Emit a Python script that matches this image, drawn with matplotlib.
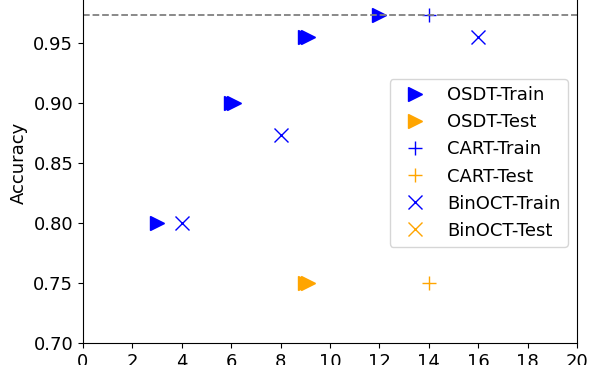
import matplotlib
matplotlib.use('Agg')
import matplotlib.pyplot as plt

# leaves vs accuracy
osdt_train_x = [3, 6, 6.1, 9, 9.1, 12]
osdt_train_y = [0.80, 0.90, 0.90, 0.955, 0.955, 0.973]
osdt_test_x = [9, 9.1]
osdt_test_y = [0.75, 0.75]
cart_train_x = [14]
cart_train_y = [0.973]
cart_test_x = [14]
cart_test_y = [0.75]
binoct_train_x = [4, 8, 16]
binoct_train_y = [0.80, 0.873, 0.955]
binoct_test_x = []
binoct_test_y = []
best_acc = 0.9733

fig = plt.figure(figsize=(5.98, 3.65), dpi=100)
# axes top goes past the figure edge, like the cropped reference
ax = fig.add_axes([83/598, 22/365, 494/598, 360/365])

ms = 10
ax.plot(osdt_train_x, osdt_train_y, '>', color='b', ms=ms, mew=1, label='OSDT-Train')
ax.plot(osdt_test_x, osdt_test_y, '>', color='orange', ms=ms, mew=1, label='OSDT-Test')
ax.plot(cart_train_x, cart_train_y, '+', color='b', ms=ms, mew=1, label='CART-Train')
ax.plot(cart_test_x, cart_test_y, '+', color='orange', ms=ms, mew=1, label='CART-Test')
ax.plot(binoct_train_x, binoct_train_y, 'x', color='b', ms=ms, mew=1, label='BinOCT-Train')
ax.plot(binoct_test_x, binoct_test_y, 'x', color='orange', ms=ms, mew=1, label='BinOCT-Test')

ax.axhline(best_acc, color='gray', ls='--', lw=1.3)

ax.set_xlim(0, 20)
ax.set_ylim(0.70, 1.0)
ax.set_xticks(range(0, 21, 2))
ax.set_yticks([0.70, 0.75, 0.80, 0.85, 0.90, 0.95, 1.00])
ax.set_yticklabels(['0.70', '0.75', '0.80', '0.85', '0.90', '0.95', '1.00'])
ax.tick_params(labelsize=13)
ax.set_ylabel('Accuracy', fontsize=13)

ax.legend(loc='center right', fontsize=13)

plt.savefig('out.png', dpi=100)
